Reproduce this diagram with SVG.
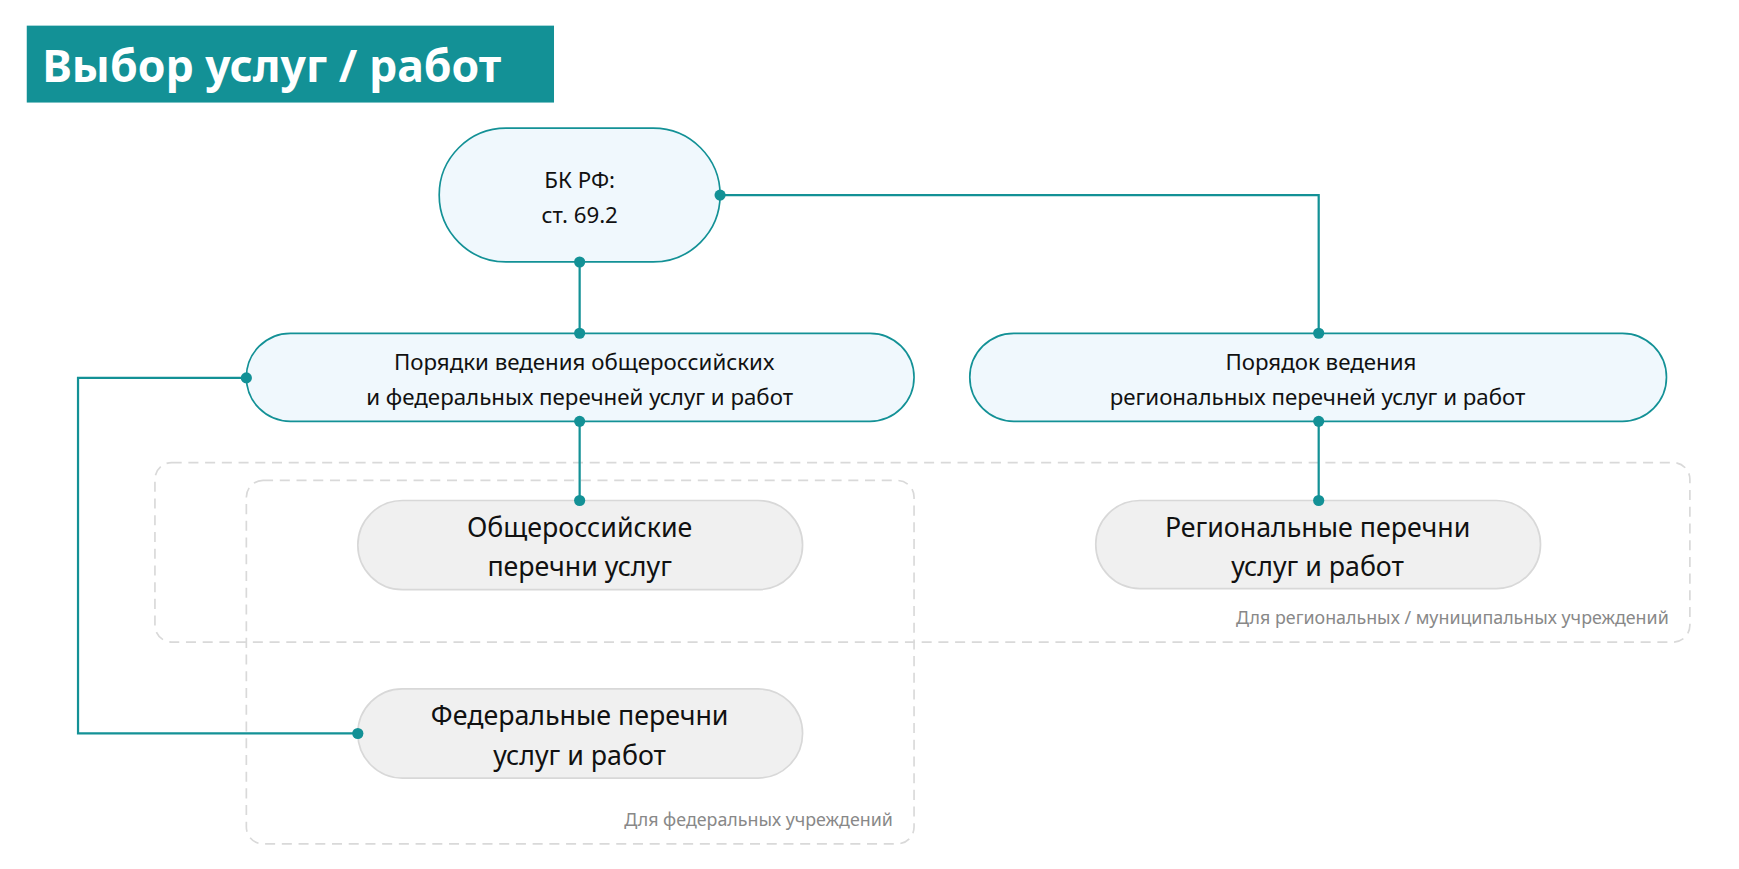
<svg xmlns="http://www.w3.org/2000/svg" width="1739" height="869" viewBox="0 0 1739 869">
<style>
text{font-family:"Noto Sans","DejaVu Sans",sans-serif;text-anchor:middle}
.blue{fill:#f0f8fd;stroke:#139196;stroke-width:1.5}
.gray{fill:#f0f0f0;stroke:#d8d8d8;stroke-width:1.5}
.dash{fill:none;stroke:#d9d9d9;stroke-width:1.5;stroke-dasharray:9 6}
.t20{font-size:20px;fill:#111}
.t24{font-size:24px;fill:#111}
.lbl{font-size:16px;fill:#888;text-anchor:end}
.c{fill:none;stroke:#139196;stroke-width:2}
.d{fill:#139196}
</style>
<rect width="1739" height="869" fill="#fff"/>
<g transform="scale(1.1147)">
<g id="regions">
<rect class="dash" x="139" y="415" width="1377" height="161" rx="15"/>
<rect class="dash" x="221" y="431" width="599" height="326" rx="15"/>
<text class="lbl" x="1497" y="560">Для региональных / муниципальных учреждений</text>
<text class="lbl" x="801" y="741">Для федеральных учреждений</text>
</g>
<g id="title"><rect x="24" y="23" width="473" height="69" fill="#139196"/>
<text x="38" y="74" style="text-anchor:start;font-size:40px;font-weight:bold;fill:#fff">Выбор услуг / работ</text></g>
<g id="n-bk"><rect class="blue" x="394" y="115" width="252" height="120" rx="60"/>
<text class="t20" x="520" y="169">БК РФ:</text><text class="t20" x="520" y="200">ст. 69.2</text></g>
<g id="n-fedorder"><rect class="blue" x="221" y="299" width="599" height="79" rx="39.5"/>
<text class="t20" x="524" y="332">Порядки ведения общероссийских</text><text class="t20" x="520" y="363">и федеральных перечней услуг и работ</text></g>
<g id="n-regorder"><rect class="blue" x="870" y="299" width="625" height="79" rx="39.5"/>
<text class="t20" x="1185" y="332">Порядок ведения</text><text class="t20" x="1182" y="363">региональных перечней услуг и работ</text></g>
<g id="n-all"><rect class="gray" x="321" y="449" width="399" height="80" rx="40"/>
<text class="t24" x="520" y="482">Общероссийские</text><text class="t24" x="520" y="517">перечни услуг</text></g>
<g id="n-reg"><rect class="gray" x="983" y="449" width="399" height="79" rx="39.5"/>
<text class="t24" x="1182" y="482">Региональные перечни</text><text class="t24" x="1182" y="517">услуг и работ</text></g>
<g id="n-fed"><rect class="gray" x="321" y="618" width="399" height="80" rx="40"/>
<text class="t24" x="520" y="650">Федеральные перечни</text><text class="t24" x="520" y="686">услуг и работ</text></g>
<g id="connectors">
<path class="c" d="M646 175H1183V299"/>
<path class="c" d="M520 235V299"/>
<path class="c" d="M221 339H70V658H321"/>
<path class="c" d="M520 378V449"/>
<path class="c" d="M1183 378V449"/>
<circle class="d" cx="646" cy="175" r="5"/><circle class="d" cx="1183" cy="299" r="5"/>
<circle class="d" cx="520" cy="235" r="5"/><circle class="d" cx="520" cy="299" r="5"/>
<circle class="d" cx="221" cy="339" r="5"/><circle class="d" cx="321" cy="658" r="5"/>
<circle class="d" cx="520" cy="378" r="5"/><circle class="d" cx="520" cy="449" r="5"/>
<circle class="d" cx="1183" cy="378" r="5"/><circle class="d" cx="1183" cy="449" r="5"/>
</g>
</g>
</svg>
